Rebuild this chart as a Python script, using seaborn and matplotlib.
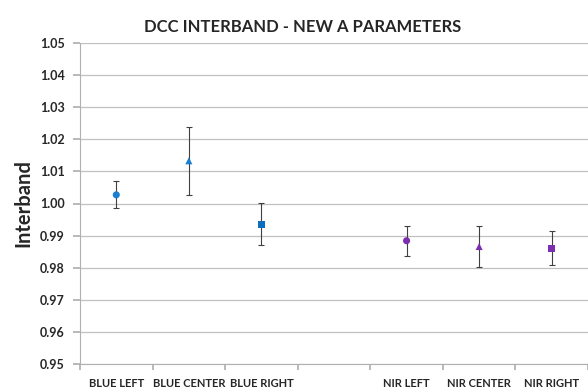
import matplotlib
matplotlib.use("Agg")
import matplotlib.pyplot as plt
import seaborn as sns
import pandas as pd
import numpy as np

categories = ["BLUE LEFT", "BLUE CENTER", "BLUE RIGHT", "", "NIR LEFT", "NIR CENTER", "NIR RIGHT"]
labels = ["BLUE LEFT", "BLUE CENTER", "BLUE RIGHT", "NIR LEFT", "NIR CENTER", "NIR RIGHT"]
values = [1.0027, 1.0133, 0.9936, 0.9884, 0.9866, 0.9861]
errors = [0.0042, 0.0105, 0.0065, 0.0047, 0.0063, 0.0053]
markers = ["o", "^", "s", "o", "^", "s"]
colors = ["#1a7fd0", "#1a7fd0", "#0a6fc0", "#7b2fb0", "#7b2fb0", "#7b2fb0"]
yticks = [0.95, 0.96, 0.97, 0.98, 0.99, 1.00, 1.01, 1.02, 1.03, 1.04, 1.05]

sns.set_theme(style="white")
plt.rcParams['font.family'] = ['Lato', 'DejaVu Sans']

W, H = 588, 391
fig = plt.figure(figsize=(W / 100, H / 100), dpi=100)
ax = fig.add_axes([80 / W, 1 - 364 / H, 1 - 80 / W, (364 - 43) / H])

df = pd.DataFrame({"cat": labels, "val": values, "err": errors})
pos = {c: i for i, c in enumerate(categories)}
df["x"] = df["cat"].map(pos)

ax.errorbar(df["x"], df["val"], yerr=df["err"], fmt="none", ecolor="#404040",
            elinewidth=0.8, capsize=2, capthick=0.8, zorder=2)
sns.scatterplot(data=df, x="x", y="val", hue="cat", style="cat",
                palette=dict(zip(labels, colors)), markers=dict(zip(labels, markers)),
                s=26, edgecolor="none", legend=False, ax=ax, zorder=3)

ax.set_ylim(0.95, 1.05)
ax.set_xlim(-0.5, 6.41)
ax.set_yticks(yticks)
ax.set_yticklabels([f"{t:.2f}" for t in yticks], fontsize=9, fontweight="bold")
ax.yaxis.grid(True, color="#c0c0c0", linewidth=0.9)
ax.set_axisbelow(True)

ax.set_xticks([i + 0.5 for i in range(-1, 7)])
ax.set_xticklabels([])
ax.set_xticks(range(len(categories)), minor=True)
ax.set_xticklabels(categories, minor=True, fontsize=8, fontweight="bold")
ax.tick_params(axis="x", which="major", length=4, color="#b0b0b0", bottom=True, direction="out")
ax.tick_params(axis="x", which="minor", length=0, pad=10)
ax.tick_params(axis="y", length=5, color="#b0b0b0", left=True, pad=6)

for s in ["top", "right"]:
    ax.spines[s].set_visible(False)
ax.spines["left"].set_color("#b0b0b0")
ax.spines["bottom"].set_color("#b0b0b0")
ax.spines["left"].set_linewidth(0.8)
ax.spines["bottom"].set_linewidth(0.8)

ax.set_xlabel("")
ax.set_ylabel("Interband", fontsize=14.5, fontweight="bold")
ax.yaxis.set_label_coords(-(80 - 33) / (W - 80), 0.5)
fig.text(303 / W, 1 - 27 / H, "DCC INTERBAND - NEW A PARAMETERS", fontsize=12,
         fontweight="bold", ha="center", va="center")

fig.savefig("out.png", dpi=100)
